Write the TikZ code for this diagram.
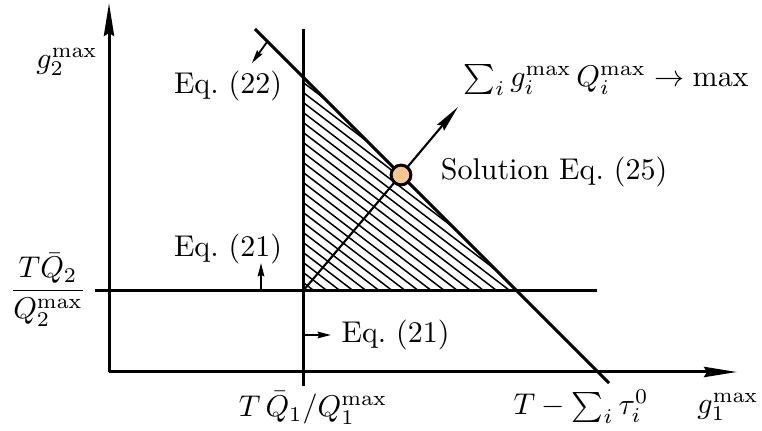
\documentclass[tikz,border=0pt]{standalone}
\usetikzlibrary{arrows.meta}
\definecolor{sol}{HTML}{F6C590}
\begin{document}
\begin{tikzpicture}[x=0.3333pt,y=-0.3333pt,
  thick line/.style={line width=1pt},
  axisarrow/.style={thick line,-{Stealth[length=11pt,width=3.4pt,inset=1pt]}},
  smallarrow/.style={line width=0.6pt,-{Stealth[length=4.5pt,width=2.2pt,inset=0.6pt]}},
  lbl/.style={inner sep=0pt,font=\normalsize}]
\useasboundingbox (0,0) rectangle (762,431);
% key points
\coordinate (O) at (109,372);
\coordinate (ytip) at (109,3);
\coordinate (xtip) at (737,372);
\coordinate (vtop) at (303,29);
\coordinate (vbot) at (303,386);
\coordinate (hl) at (95,291);
\coordinate (hr) at (597,291);
\coordinate (dtop) at (255,29);
\coordinate (dbot) at (609,383);
\coordinate (A) at (303,291);
\coordinate (B) at (303,77);
\coordinate (C) at (517,291);
\coordinate (objtip) at (458,107);
% hatching
\begin{scope}
  \clip (A) -- (B) -- (C) -- cycle;
  \foreach \k in {-300,-290,...,300}
    \draw[line width=0.5pt] (300,\k) -- (620,\k+245);
\end{scope}
% axes
\draw[axisarrow] (O) -- (ytip);
\draw[axisarrow] (O) -- (xtip);
% constraint lines
\draw[thick line] (vtop) -- (vbot);
\draw[thick line] (hl) -- (hr);
\draw[thick line] (dtop) -- (dbot);
% objective direction
\draw[line width=0.7pt,-{Stealth[length=9pt,width=3pt,inset=1pt]}] (A) -- (objtip);
\node[circle,draw,line width=1pt,fill=sol,minimum size=6.6pt,inner sep=0pt] (sol) at (401,175) {};
% small constraint arrows
\coordinate (e22a) at (267,42);
\coordinate (e22b) at (252,63);
\draw[smallarrow] (e22a) -- (e22b);
\coordinate (e21a) at (261,291);
\coordinate (e21b) at (261,263);
\draw[smallarrow] (e21a) -- (e21b);
\coordinate (e21c) at (303,335);
\coordinate (e21d) at (331,335);
\draw[smallarrow] (e21c) -- (e21d);
% labels
\node[lbl] (g2) at (67,62) {$g_2^{\max}$};
\node[lbl] (l22) at (228,86) {Eq.~(22)};
\node[lbl] (obj) at (606,80) {$\sum_i g_i^{\max}\, Q_i^{\max} \rightarrow \max$};
\node[lbl] (lsol) at (554,172) {Solution Eq.~(25)};
\node[lbl] (l21a) at (228,249) {Eq.~(21)};
\node[lbl] (frac) at (48,290) {$\displaystyle\frac{T\bar{Q}_2}{Q_2^{\max}}$};
\node[lbl,anchor=west] (l21b) at (341,335) {Eq.~(21)};
\node[lbl] (q1) at (313,408) {$T\,\bar{Q}_1/Q_1^{\max}$};
\node[lbl] (tsum) at (581,407) {$T-\sum_i \tau_i^0$};
\node[lbl] (g1) at (728,407) {$g_1^{\max}$};
\end{tikzpicture}
\end{document}
